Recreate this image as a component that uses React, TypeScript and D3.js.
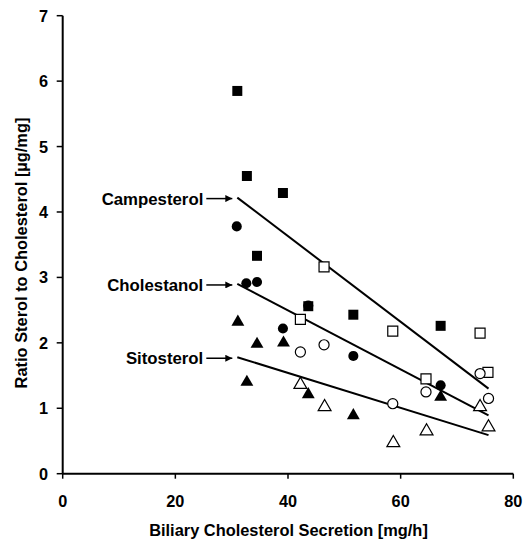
import React from "react";
import * as d3 from "d3";

const xTicks = [0, 20, 40, 60, 80];
const yTicks = [0, 1, 2, 3, 4, 5, 6, 7];

// Campesterol
const campFilled = [
  [31.0, 5.85], [32.7, 4.55], [39.1, 4.29], [34.5, 3.33], [43.6, 2.56], [51.6, 2.43], [67.1, 2.26],
];
const campOpen = [
  [46.4, 3.16], [42.2, 2.36], [58.6, 2.18], [74.1, 2.15], [64.5, 1.45], [75.5, 1.55],
];
// Cholestanol
const cholFilled = [
  [30.9, 3.78], [32.6, 2.91], [34.5, 2.93], [43.6, 2.57], [39.1, 2.22], [51.6, 1.80], [67.1, 1.35],
];
const cholOpen = [
  [42.2, 1.86], [46.4, 1.97], [58.6, 1.07], [64.5, 1.25], [74.1, 1.53], [75.6, 1.15],
];
// Sitosterol
const sitoFilled = [
  [31.1, 2.32], [32.7, 1.40], [34.5, 1.98], [39.2, 2.0], [43.6, 1.21], [51.6, 0.89], [67.1, 1.17],
];
const sitoOpen = [
  [42.2, 1.36], [46.5, 1.02], [58.7, 0.47], [64.6, 0.65], [74.1, 1.02], [75.6, 0.71],
];

const fitNames = ["Campesterol", "Cholestanol", "Sitosterol"];
const fitX = [31.0, 75.6];
const fitYStart = [4.22, 2.9, 1.78];
const fitYEnd = [1.3, 0.89, 0.59];

const FONT = "Arial, 'Liberation Sans', Helvetica, sans-serif";

export default function App() {
  const x = d3.scaleLinear().domain([0, 80]).range([62.7, 513.3]);
  const y = d3.scaleLinear().domain([0, 7]).range([473.7, 15.7]);
  const sq = d3.symbol().type(d3.symbolSquare).size(100)() as string;
  const ci = d3.symbol().type(d3.symbolCircle).size(80)() as string;
  const tri = d3.symbol().type(d3.symbolTriangle).size(72)() as string;

  const marks = (data: number[][], path: string, filled: boolean, key: string) =>
    data.map((d, i) => (
      <path
        key={key + i}
        d={path}
        transform={`translate(${x(d[0])},${y(d[1])})`}
        fill={filled ? "#000" : "#fff"}
        stroke="#000"
        strokeWidth={filled ? 0 : 1.2}
      />
    ));

  const line = d3.line<number[]>().x((d) => x(d[0])).y((d) => y(d[1]));

  return (
    <svg
      width={530}
      height={544}
      style={{ position: "absolute", left: 0, top: 0, background: "#fff" }}
      fontFamily={FONT}
      fontWeight="bold"
    >
      <defs>
        <marker id="ah" viewBox="0 0 10 10" refX="10" refY="5" markerWidth="9" markerHeight="7" markerUnits="userSpaceOnUse" orient="auto">
          <path d="M0,0 L10,5 L0,10 z" fill="#000" />
        </marker>
      </defs>
      {/* axes */}
      <line x1={x(0)} x2={x(80)} y1={y(0)} y2={y(0)} stroke="#000" strokeWidth={2} />
      <line x1={x(0)} x2={x(0)} y1={y(0)} y2={y(7)} stroke="#000" strokeWidth={2} />
      {xTicks.map((t) => (
        <g key={"xt" + t}>
          <line x1={x(t)} x2={x(t)} y1={y(0)} y2={y(0) + 5} stroke="#000" strokeWidth={1.5} />
          <text x={x(t)} y={507} textAnchor="middle" fontSize={16.3}>{t}</text>
        </g>
      ))}
      {yTicks.map((t) => (
        <g key={"yt" + t}>
          <line x1={x(0) - 6} x2={x(0)} y1={y(t)} y2={y(t)} stroke="#000" strokeWidth={1.5} />
          <text x={48} y={y(t) + 6} textAnchor="end" fontSize={16.3}>{t}</text>
        </g>
      ))}
      <text x={288.5} y={536} textAnchor="middle" fontSize={16.4}>Biliary Cholesterol Secretion [mg/h]</text>
      <text transform={`translate(27,253) rotate(-90)`} textAnchor="middle" fontSize={16.4}>
        Ratio Sterol to Cholesterol [µg/mg]
      </text>
      {/* fits */}
      {fitNames.map((n, i) => {
        const x0 = x(fitX[0]);
        const y0 = y(fitYStart[i]);
        return (
          <g key={n}>
            <path d={line([[fitX[0], fitYStart[i]], [fitX[1], fitYEnd[i]]]) as string} stroke="#000" strokeWidth={2} fill="none" />
            <line x1={x0 - 31} x2={x0 - 5} y1={y0 + 1} y2={y0 + 1} stroke="#000" strokeWidth={1.5} markerEnd="url(#ah)" />
            <text x={x0 - 34} y={y0 + 7} textAnchor="end" fontSize={16.8}>{n}</text>
          </g>
        );
      })}
      {marks(campOpen, sq, false, "co")}
      {marks(cholOpen, ci, false, "ho")}
      {marks(sitoOpen, tri, false, "so")}
      {marks(campFilled, sq, true, "cf")}
      {marks(cholFilled, ci, true, "hf")}
      {marks(sitoFilled, tri, true, "sf")}
    </svg>
  );
}
